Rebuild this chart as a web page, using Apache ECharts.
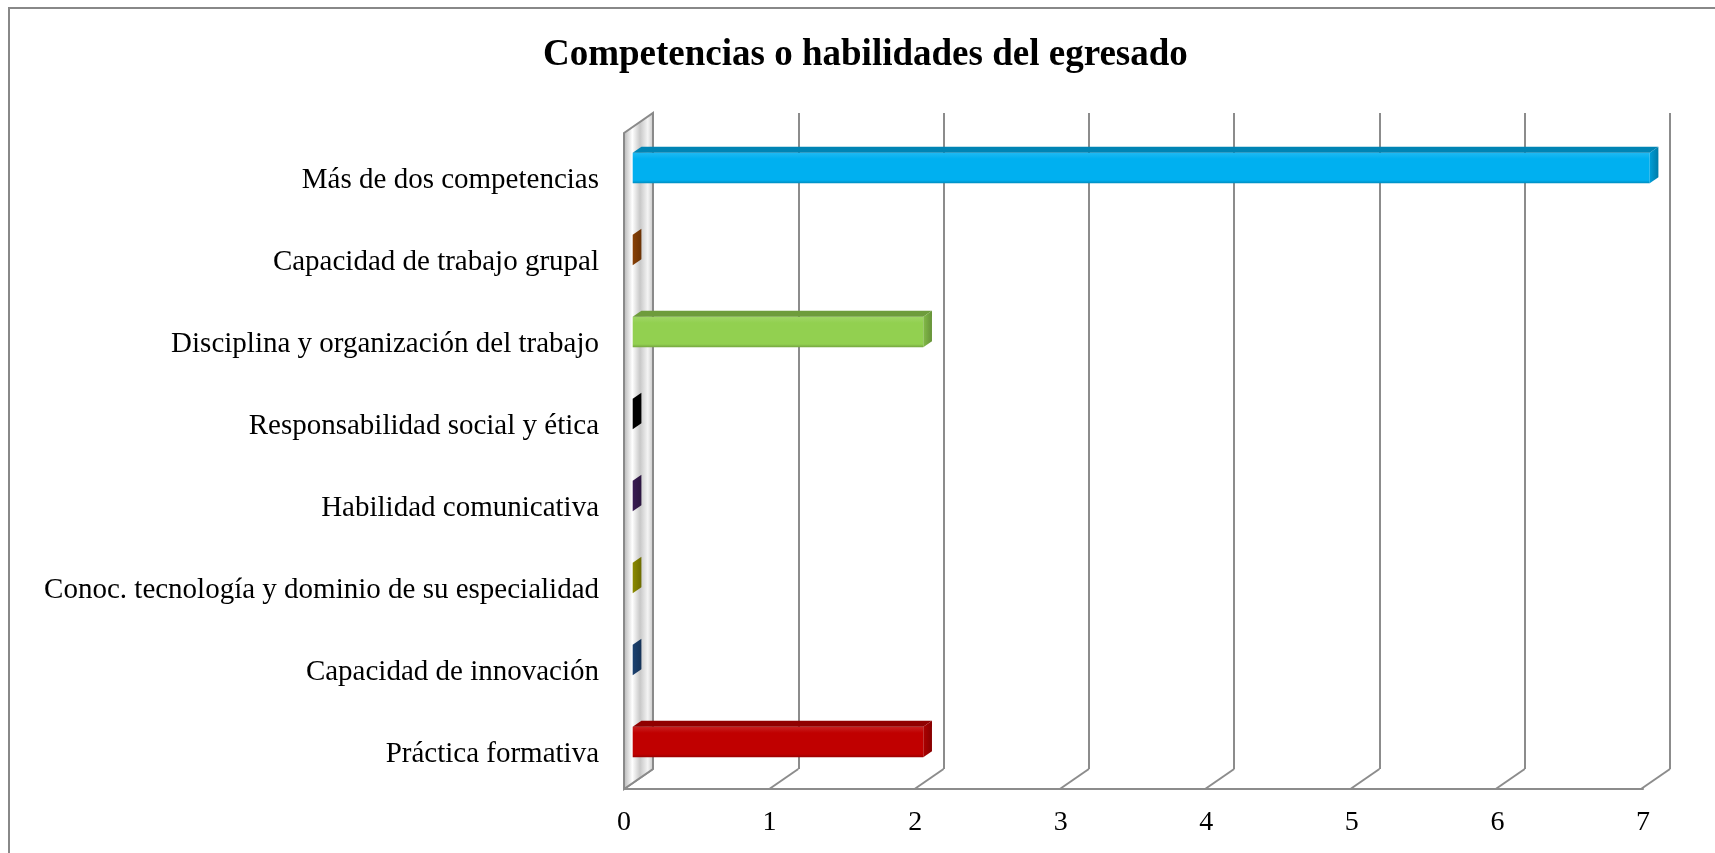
<!DOCTYPE html>
<html>
<head>
<meta charset="utf-8">
<script src="https://cdn.jsdelivr.net/npm/echarts@6/dist/echarts.min.js"></script>
<style>
  html, body { margin: 0; padding: 0; background: #fff; }
  #chart { width: 1715px; height: 853px; }
</style>
</head>
<body>
<div id="chart"></div>
<script>
const categories = [
  'Más de dos competencias',
  'Capacidad de trabajo grupal',
  'Disciplina y organización del trabajo',
  'Responsabilidad social y ética',
  'Habilidad comunicativa',
  'Conoc. tecnología y dominio de su especialidad',
  'Capacidad de innovación',
  'Práctica formativa'
]
const values = [7, 0, 2, 0, 0, 0, 0, 2]
const barColors = ['#00B0F0', '#984807', '#92D050', '#000000', '#3F1F5C', '#9C9A00', '#1F497D', '#C00000']
const xMin = 0
const xMax = 7

// perspective offsets (back plane -> front plane)
const DEPTH_X = -29
const DEPTH_Y = 20

function shade(hex, f) {
  const n = parseInt(hex.slice(1), 16)
  let r = (n >> 16) & 255, g = (n >> 8) & 255, b = n & 255
  if (f < 0) {
    r = Math.round(r * (1 + f)); g = Math.round(g * (1 + f)); b = Math.round(b * (1 + f))
  } else {
    r = Math.round(r + (255 - r) * f); g = Math.round(g + (255 - g) * f); b = Math.round(b + (255 - b) * f)
  }
  return 'rgb(' + r + ',' + g + ',' + b + ')'
}

const chart = echarts.init(document.getElementById('chart'))
const fontFamily = '"Liberation Serif", "Times New Roman", serif'
const hiddenAxis = {
  axisLine: { show: false }, axisTick: { show: false }, axisLabel: { show: false }, splitLine: { show: false }
}

chart.setOption({
  animation: false,
  title: {
    text: 'Competencias o habilidades del egresado',
    left: 543,
    top: 37,
    padding: 0,
    textStyle: { fontFamily, fontSize: 37, fontWeight: 'bold', color: '#000' }
  },
  graphic: [{
    type: 'rect',
    shape: { x: 9, y: 8, width: 1720, height: 860 },
    style: { fill: 'none', stroke: '#888', lineWidth: 2 },
    silent: true
  }],
  grid: [
    // back wall plane
    { left: 653, right: 45, top: 113, bottom: 84 },
    // front plane (floor edge + value labels)
    { left: 624, right: 72, top: 133, bottom: 64 },
    // category labels
    { left: 624, right: 72, top: 139, bottom: 58 }
  ],
  xAxis: [
    {
      gridIndex: 0, type: 'value', min: xMin, max: xMax, interval: 1,
      axisLine: { show: false }, axisTick: { show: false }, axisLabel: { show: false },
      splitLine: { lineStyle: { color: '#8c8c8c', width: 2 } }
    },
    {
      gridIndex: 1, type: 'value', min: xMin, max: xMax, interval: 1,
      axisLine: { show: true, lineStyle: { color: '#8c8c8c', width: 2 } },
      axisTick: { show: false },
      splitLine: { show: false },
      axisLabel: { margin: 20, fontFamily, fontSize: 28, color: '#000' }
    },
    Object.assign({ gridIndex: 2, type: 'value', min: xMin, max: xMax }, hiddenAxis)
  ],
  yAxis: [
    Object.assign({ gridIndex: 0, type: 'category', data: categories, inverse: true }, hiddenAxis),
    Object.assign({ gridIndex: 1, type: 'category', data: categories, inverse: true }, hiddenAxis),
    {
      gridIndex: 2, type: 'category', data: categories, inverse: true,
      axisLine: { show: false }, axisTick: { show: false }, splitLine: { show: false },
      axisLabel: { margin: 25, fontFamily, fontSize: 29, color: '#000' }
    }
  ],
  series: [
    {
      // left wall and floor diagonals
      type: 'custom',
      xAxisIndex: 0,
      yAxisIndex: 0,
      z: 1,
      silent: true,
      clip: false,
      data: [[0, 0]],
      renderItem: (params, api) => {
        const cs = params.coordSys
        const bottom = cs.y + cs.height
        const children = []
        for (let i = xMin; i <= xMax; i++) {
          const p = api.coord([i, 0])
          children.push({
            type: 'line',
            shape: { x1: p[0], y1: bottom, x2: p[0] + DEPTH_X, y2: bottom + DEPTH_Y },
            style: { stroke: '#8c8c8c', lineWidth: 2 }
          })
        }
        const x0 = api.coord([xMin, 0])[0]
        children.push({
          type: 'polygon',
          shape: {
            points: [
              [x0 + DEPTH_X, cs.y + DEPTH_Y],
              [x0, cs.y],
              [x0, bottom],
              [x0 + DEPTH_X, bottom + DEPTH_Y]
            ]
          },
          style: {
            fill: new echarts.graphic.LinearGradient(0, 0, 1, 0, [
              { offset: 0, color: '#b0b0b0' },
              { offset: 0.3, color: '#ffffff' },
              { offset: 0.55, color: '#c8c8c8' },
              { offset: 0.8, color: '#f4f4f4' },
              { offset: 1, color: '#c0c0c0' }
            ]),
            stroke: '#8a8a8a',
            lineWidth: 2
          }
        })
        return { type: 'group', children }
      }
    },
    {
      // 3D bars
      type: 'custom',
      xAxisIndex: 0,
      yAxisIndex: 0,
      z: 3,
      clip: false,
      data: values.map((v, i) => [v, i]),
      encode: { x: 0, y: 1 },
      renderItem: (params, api) => {
        const cat = api.value(1)
        const color = barColors[params.dataIndex]
        const p0 = api.coord([xMin, cat])
        const p1 = api.coord([api.value(0), cat])
        const band = api.size([0, 1])[1]
        const h = band * 0.37
        const fx = DEPTH_X * 0.7, fy = DEPTH_Y * 0.7
        const bx = DEPTH_X * 0.4, by = DEPTH_Y * 0.4
        const x0 = p0[0] + fx
        const x1 = p1[0] + fx
        const yT = p0[1] + fy - h / 2
        const yB = yT + h
        const ddx = bx - fx, ddy = by - fy
        return {
          type: 'group',
          children: [
            {
              type: 'rect',
              shape: { x: x0, y: yT, width: Math.max(x1 - x0, 0), height: h },
              style: {
                fill: new echarts.graphic.LinearGradient(0, 0, 0, 1, [
                  { offset: 0, color: shade(color, 0.12) },
                  { offset: 0.2, color: color },
                  { offset: 0.9, color: color },
                  { offset: 1, color: shade(color, -0.2) }
                ])
              }
            },
            {
              type: 'polygon',
              shape: { points: [[x0, yT], [x1, yT], [x1 + ddx, yT + ddy], [x0 + ddx, yT + ddy]] },
              style: { fill: shade(color, -0.25) }
            },
            {
              type: 'polygon',
              shape: { points: [[x1, yT], [x1 + ddx, yT + ddy], [x1 + ddx, yB + ddy], [x1, yB]] },
              style: {
                fill: new echarts.graphic.LinearGradient(0, 0, 1, 0, [
                  { offset: 0, color: shade(color, -0.1) },
                  { offset: 1, color: shade(color, -0.3) }
                ])
              }
            }
          ]
        }
      }
    }
  ]
})
</script>
</body>
</html>
